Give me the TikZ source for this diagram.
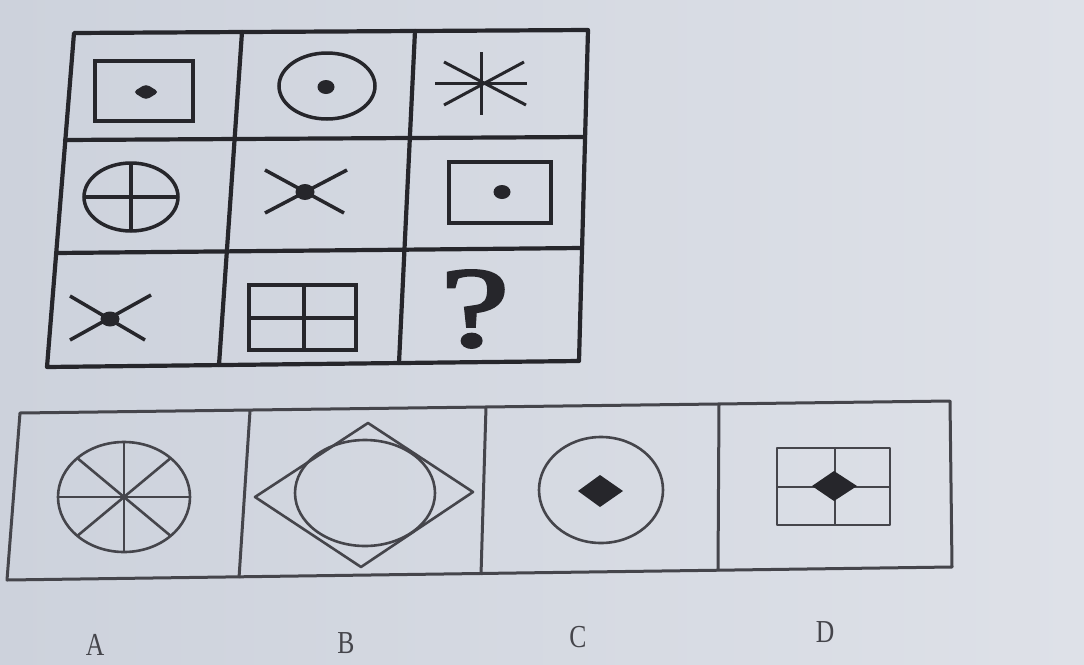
\documentclass[tikz,border=0pt]{standalone}
\usepackage{fontspec}
\setmainfont{Liberation Serif}
\newfontfamily\qmarkfont[FakeBold=2.5]{Liberation Serif}
\usetikzlibrary{calc}
\definecolor{ink}{HTML}{26262B}
\definecolor{ink2}{HTML}{45454B}
\definecolor{bgl}{HTML}{CDD2DC}
\definecolor{bgr}{HTML}{DEE1E8}
\begin{document}
\begin{tikzpicture}[x=1pt,y=-1pt,
  gridline/.style={line width=4.2pt, draw=ink, line join=round, line cap=round},
  fig/.style={line width=3.5pt, draw=ink},
  figthin/.style={line width=3pt, draw=ink},
  optline/.style={line width=3pt, draw=ink2, line join=round},
  optfig/.style={line width=2.6pt, draw=ink2, line join=round},
  lab/.style={font=\fontsize{32}{32}\selectfont, text=ink2, inner sep=0pt}]
\useasboundingbox (0,0) rectangle (1084,664);
\shade[left color=bgl, right color=bgr] (0,0) rectangle (1084,664);

% ---------- top 3x3 grid ----------
\coordinate (g1) at (74,33);
\coordinate (g2) at (588,30);
\coordinate (g3) at (579,361);
\coordinate (g4) at (47,367);
\draw[gridline] (g1) -- (g2) -- (g3) -- (g4) -- cycle;
\coordinate (c1t) at (242,32);  \coordinate (c1b) at (219,365);
\coordinate (c2t) at (415,31);  \coordinate (c2b) at (399,363);
\coordinate (r1l) at (65,140);  \coordinate (r1r) at (585,137);
\coordinate (r2l) at (56,253);  \coordinate (r2r) at (582,248);
\draw[gridline] (c1t) -- (c1b);
\draw[gridline] (c2t) -- (c2b);
\draw[gridline] (r1l) -- (r1r);
\draw[gridline] (r2l) -- (r2r);

% cell 1,1: rectangle with diamond dot
\draw[fig] (95,61) rectangle (193,121);
\fill[ink, rounded corners=4pt] (133,92) -- (146,84) -- (159,92) -- (146,100) -- cycle;

% cell 1,2: circle with dot
\draw[fig] (327,86) ellipse [x radius=48, y radius=33];
\fill[ink] (326,87) ellipse [x radius=8.5, y radius=7];

% cell 1,3: asterisk
\draw[figthin] (481,52) -- (481,115);
\draw[figthin] (435,83) -- (527,83);
\draw[figthin] (444,62) -- (526,105);
\draw[figthin] (444,105) -- (524,62);

% cell 2,1: circle with cross
\draw[fig] (131,197) ellipse [x radius=47, y radius=34];
\draw[fig] (131,163) -- (131,231);
\draw[fig] (84,197) -- (178,197);

% cell 2,2: X with dot
\draw[fig] (265,170) -- (344,213);
\draw[fig] (347,170) -- (265,213);
\fill[ink] (305,192) ellipse [x radius=9.5, y radius=8];

% cell 2,3: rectangle with dot
\draw[fig] (449,162) rectangle (551,223);
\fill[ink] (502,192) ellipse [x radius=8.5, y radius=7];

% cell 3,1: X with dot
\draw[fig] (70,296) -- (145,340);
\draw[fig] (151,295) -- (70,340);
\fill[ink] (110,319) ellipse [x radius=9.5, y radius=7.5];

% cell 3,2: rectangle split in four
\draw[fig] (249,285) rectangle (356,350);
\draw[fig] (304,285) -- (304,350);
\draw[fig] (249,318) -- (356,318);

% cell 3,3: question mark
\node[inner sep=0pt, text=ink] (q) at (475,309)
  {\scalebox{1.35}[1]{\fontsize{114}{114}\qmarkfont ?}};

% ---------- answer options ----------
\coordinate (o1) at (20,413);
\coordinate (o2) at (950,401);
\coordinate (o3) at (952,567);
\coordinate (o4) at (7,580);
\draw[optline] (o1) -- (o2) -- (o3) -- (o4) -- cycle;
\coordinate (d1t) at (250,411); \coordinate (d1b) at (239,578);
\coordinate (d2t) at (486,407); \coordinate (d2b) at (481,575);
\coordinate (d3t) at (719,404); \coordinate (d3b) at (718,571);
\draw[optline] (d1t) -- (d1b);
\draw[optline] (d2t) -- (d2b);
\draw[optline] (d3t) -- (d3b);

% A: wheel with eight spokes
\coordinate (wa) at (124,497);
\draw[optfig] (wa) ellipse [x radius=66, y radius=55];
\foreach \ang in {0,45,90,135} {
  \draw[optfig] ($(wa)+({66*cos(\ang)},{55*sin(\ang)})$) -- ($(wa)-({66*cos(\ang)},{55*sin(\ang)})$);
}
\fill[ink2] (wa) circle (3);

% B: diamond around circle
\draw[optfig] (368,423) -- (473,492) -- (361,567) -- (255,497) -- cycle;
\draw[optfig] (365,493) ellipse [x radius=70, y radius=53];

% C: circle with diamond
\draw[optfig] (601,490) ellipse [x radius=62, y radius=53];
\fill[ink] (578,491) -- (600,475) -- (623,491) -- (600,507) -- cycle;

% D: rectangle in four with diamond
\draw[optfig] (777,448) rectangle (890,525);
\draw[optfig] (835,448) -- (835,525);
\draw[optfig] (777,487) -- (890,487);
\fill[ink] (812,486) -- (834,471) -- (857,486) -- (834,501) -- cycle;

% labels
\node[lab] (la) at (95,645) {\scalebox{0.8}[1]{A}};
\node[lab] (lb) at (346,643) {\scalebox{0.8}[1]{B}};
\node[lab] (lc) at (578,637) {\scalebox{0.8}[1]{C}};
\node[lab] (ld) at (825,632) {\scalebox{0.8}[1]{D}};
\end{tikzpicture}
\end{document}
